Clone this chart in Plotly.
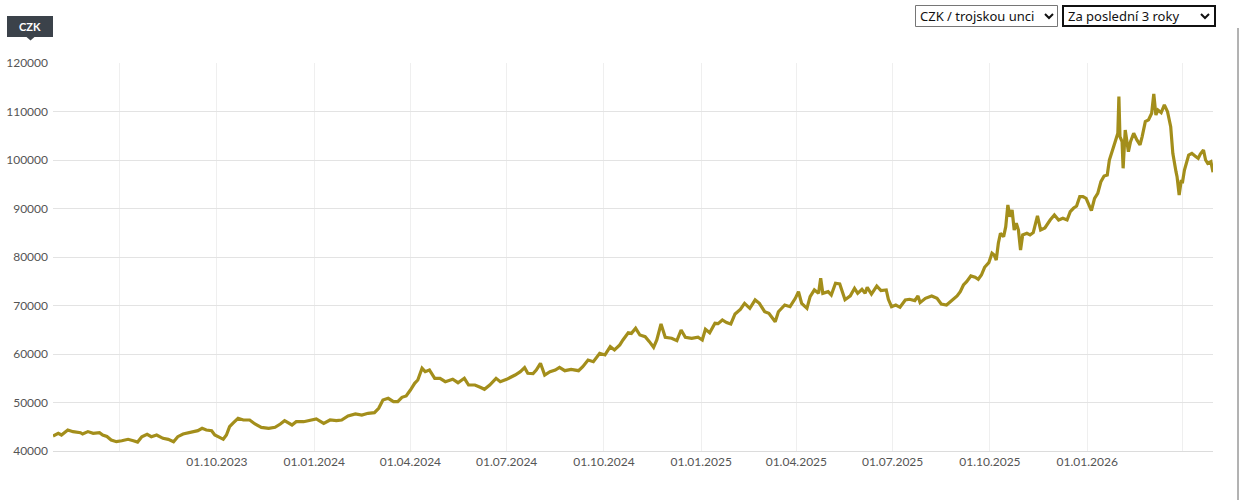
import plotly.graph_objects as go
import pandas as pd

# ---------------- data ----------------
start_date = "2023-04-29"
day_offsets = [
    0, 5, 8, 14, 19, 26, 28, 33, 38, 44, 47, 51, 55, 60, 65, 71, 76, 80, 84, 89,
    93, 98, 104, 109, 114, 118, 123, 130, 134, 137, 141, 145, 150, 153, 158, 161, 164, 167, 170, 175,
    180, 186, 191, 197, 204, 210, 215, 219, 226, 230, 237, 243, 249, 256, 262, 268, 273, 279, 286, 292,
    298, 304, 308, 312, 317, 322, 326, 330, 334, 338, 342, 345, 349, 352, 356, 361, 366, 371, 378, 383,
    389, 393, 399, 404, 408, 413, 419, 423, 429, 437, 442, 446, 449, 454, 457, 461, 465, 470, 475, 479,
    484, 490, 497, 501, 506, 511, 517, 522, 527, 531, 536, 539, 544, 547, 551, 555, 560, 564, 568, 571,
    575, 579, 585, 590, 594, 598, 604, 610, 614, 617, 621, 626, 629, 633, 637, 641, 645, 650, 654, 659,
    664, 668, 673, 677, 683, 686, 692, 697, 702, 705, 708, 713, 716, 720, 724, 726, 728, 733, 736, 740,
    744, 749, 754, 758, 761, 765, 768, 770, 774, 779, 783, 788, 790, 793, 797, 801, 806, 810, 815, 818,
    820, 825, 831, 836, 840, 845, 850, 855, 858, 861, 864, 868, 872, 875, 878, 881, 885, 888, 890, 892,
    894, 896, 899, 901, 903, 905, 907, 909, 911, 913, 915, 917, 921, 924, 927, 931, 934, 938, 943, 947,
    951, 955, 959, 962, 965, 968, 971, 974, 977, 980, 982, 985, 988, 991, 994, 997, 999, 1003, 1005, 1007,
    1008, 1009, 1011, 1012, 1014, 1017, 1019, 1022, 1025, 1028, 1030, 1033, 1036, 1039, 1041, 1043, 1045, 1048, 1051, 1054,
    1057, 1059, 1062, 1063, 1065, 1067, 1068, 1070, 1074, 1077, 1080, 1083, 1085, 1088, 1090, 1092, 1095, 1097,
]
prices = [
    43100, 43650, 43300, 44330, 43980, 43770, 43500, 44000, 43650, 43770, 43300, 43000, 42270, 41920, 42120, 42410, 42120, 41850, 42950, 43440,
    42950, 43300, 42610, 42410, 41920, 42950, 43500, 43770, 43980, 44190, 44670, 44330, 44190, 43300, 42750, 42410, 43300, 45010, 45700, 46740,
    46390, 46390, 45570, 44880, 44670, 44880, 45570, 46250, 45360, 46040, 46040, 46390, 46600, 45700, 46390, 46250, 46390, 47220, 47630, 47420,
    47770, 47900, 48800, 50520, 50870, 50170, 50170, 51070, 51340, 52580, 53960, 54640, 57050, 56350, 56700, 54990, 54990, 54290, 54800, 54080,
    54990, 53610, 53610, 53130, 52720, 53610, 54990, 54290, 54780, 55670, 56350, 57180, 56020, 55950, 56670, 58080, 55670, 56350, 56700, 57250,
    56560, 56840, 56560, 57380, 58760, 58420, 60150, 59800, 61510, 60830, 61860, 62890, 64390, 64250, 65300, 63920, 63570, 62550, 61380, 62890,
    66190, 63450, 63240, 62750, 64950, 63450, 63240, 63450, 62890, 65090, 64390, 66330, 66260, 67010, 66470, 66190, 68250, 69210, 70450, 69420,
    71140, 70450, 68720, 68390, 66660, 68720, 70100, 69760, 71480, 72850, 70450, 69420, 71820, 73200, 72510, 75600, 72510, 72850, 72170, 74580,
    74440, 71200, 72000, 73550, 72510, 73340, 72510, 73750, 72370, 74020, 73060, 73200, 71280, 69760, 70100, 69630, 71140, 71280, 71000, 71960,
    70590, 71480, 71960, 71480, 70310, 70100, 71140, 71960, 72850, 74230, 74910, 76090, 75820, 75400, 76290, 77880, 78830, 80770, 80420, 79380,
    82830, 84890, 84200, 86250, 90730, 88310, 89690, 85570, 86950, 85570, 81450, 84540, 84890, 84540, 85020, 88460, 85570, 86000, 87630, 88660,
    87630, 87980, 87630, 89340, 90040, 90520, 92440, 92440, 92100, 90520, 89550, 92100, 93130, 95530, 96700, 96910, 100000, 102750, 104130, 105510,
    113070, 104820, 103790, 98290, 106190, 101720, 103790, 105510, 104130, 103100, 104820, 107920, 108260, 109640, 113630, 109280, 110310, 109760, 111350, 109970,
    106870, 101380, 97590, 96560, 92790, 95880, 95190, 97940, 101030, 101380, 100830, 100340, 101240, 102070, 100000, 99310, 99650, 97500,
]
tick_dates = ["2023-07-01", "2023-10-01", "2024-01-01", "2024-04-01", "2024-07-01", "2024-10-01",
              "2025-01-01", "2025-04-01", "2025-07-01", "2025-10-01", "2026-01-01", "2026-04-01"]
tick_labels = ["", "01.10.2023", "01.01.2024", "01.04.2024", "01.07.2024", "01.10.2024",
               "01.01.2025", "01.04.2025", "01.07.2025", "01.10.2025", "01.01.2026", ""]
y_ticks = [40000, 50000, 60000, 70000, 80000, 90000, 100000, 110000, 120000]
y_min, y_max = 40000, 120000
unit_label = "CZK"
menu_unit = "CZK / trojskou unci"
menu_period = "Za poslední 3 roky"

dates = pd.to_datetime(start_date) + pd.to_timedelta(day_offsets, unit="D")

# ---------------- layout helpers (page pixels -> paper) ----------------
W, H = 1244, 500
ML, MR, MT, MB = 53, 31, 63, 49
PW, PH = W - ML - MR, H - MT - MB


def px(x):
    return (x - ML) / PW


def py(y):
    return (H - MB - y) / PH


LINE_COLOR = "#a38e1b"
TICK_FONT = dict(family="Lato, 'Open Sans', sans-serif", size=12, color="#555555")
MENU_FONT = dict(family="'Noto Sans', sans-serif", size=13, color="#111111")

fig = go.Figure()
fig.add_trace(go.Scatter(
    x=dates, y=prices, mode="lines",
    line=dict(color=LINE_COLOR, width=3.2),
    hoverinfo="x+y", showlegend=False,
))

shapes = []
annotations = []

# unit badge (y-axis title)
annotations.append(dict(
    xref="paper", yref="paper", x=px(30), y=py(26.5), xanchor="center", yanchor="middle",
    text="<b>" + unit_label + "</b>", showarrow=False, width=46, height=21,
    bgcolor="#3b424a", borderpad=0, borderwidth=0,
    font=dict(family="Lato, sans-serif", size=11, color="#ffffff"),
))
shapes.append(dict(
    type="path", xref="paper", yref="paper",
    path=f"M {px(26.5)} {py(37)} L {px(34.5)} {py(37)} L {px(30.5)} {py(40.5)} Z",
    fillcolor="#3b424a", line=dict(width=0),
))

# dropdown look-alikes
shapes.append(dict(type="rect", xref="paper", yref="paper",
                   x0=px(915.5), x1=px(1057.5), y0=py(5.5), y1=py(26.5),
                   line=dict(color="#767676", width=1), fillcolor="#ffffff"))
shapes.append(dict(type="rect", xref="paper", yref="paper",
                   x0=px(1063), x1=px(1215), y0=py(6), y1=py(26),
                   line=dict(color="#111111", width=2), fillcolor="#ffffff"))
annotations.append(dict(
    xref="paper", yref="paper", x=px(918), y=py(16), xanchor="left", yanchor="middle",
    text=menu_unit, showarrow=False, font=MENU_FONT,
))
annotations.append(dict(
    xref="paper", yref="paper", x=px(1066), y=py(16), xanchor="left", yanchor="middle",
    text=menu_period, showarrow=False, font=MENU_FONT,
))
for cx in (1049, 1205):
    shapes.append(dict(
        type="path", xref="paper", yref="paper",
        path=f"M {px(cx - 4)} {py(14)} L {px(cx)} {py(18)} L {px(cx + 4)} {py(14)}",
        line=dict(color="#111111", width=2),
    ))

# right-hand page edge line
shapes.append(dict(type="line", xref="paper", yref="paper",
                   x0=px(1238), x1=px(1238), y0=py(28), y1=py(500),
                   line=dict(color="#666666", width=1)))

fig.update_layout(
    width=W, height=H,
    margin=dict(l=ML, r=MR, t=MT, b=MB, autoexpand=False),
    paper_bgcolor="#ffffff", plot_bgcolor="#ffffff",
    shapes=shapes, annotations=annotations,
    hovermode="x",
    xaxis=dict(
        type="date", range=[dates[0], dates[-1]],
        tickmode="array", tickvals=tick_dates, ticktext=tick_labels,
        showgrid=True, gridcolor="#efefef", gridwidth=1,
        showline=True, linecolor="#dcdcdc", linewidth=1,
        ticks="", tickfont=TICK_FONT, zeroline=False,
    ),
    yaxis=dict(
        range=[y_min, y_max],
        tickmode="array", tickvals=y_ticks, ticktext=[str(v) for v in y_ticks],
        showgrid=True, gridcolor="#e3e3e3", gridwidth=1,
        ticks="", tickfont=TICK_FONT, zeroline=False, showline=False,
        ticklabelstandoff=4,
    ),
)

fig.write_html(
    "out.html",
    config={"displayModeBar": False},
    post_script="document.body.style.margin='0';document.body.style.overflow='hidden';",
)
